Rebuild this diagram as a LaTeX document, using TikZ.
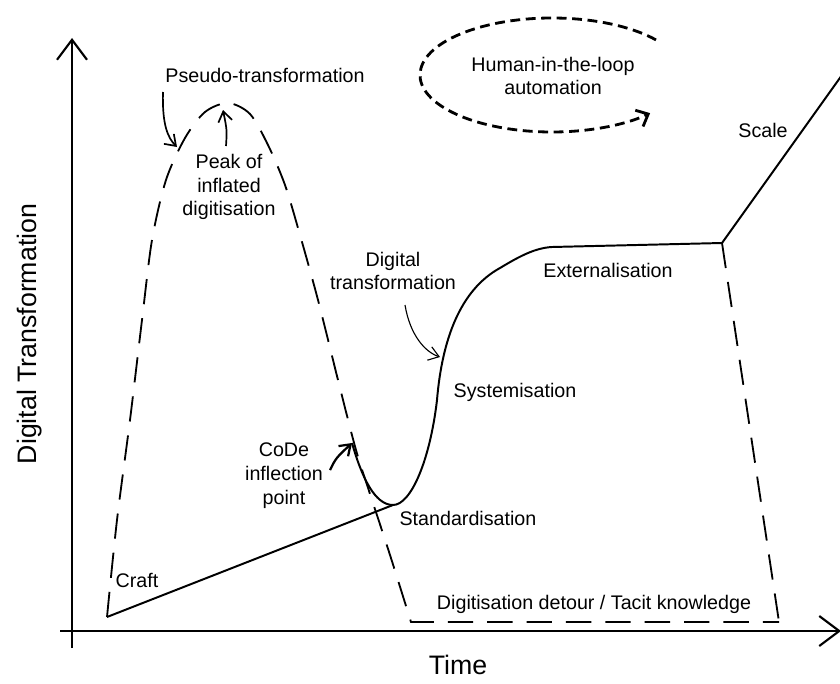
\documentclass[tikz,border=0pt]{standalone}
\usepackage{fontspec}
\setmainfont{Liberation Sans}
\usepackage{tikz}
\usetikzlibrary{arrows.meta}
\tikzset{>=stealth}
\tikzset{%
    lbl/.style={font=\fontsize{14}{17}\selectfont, align=center, inner sep=0pt},
    biglbl/.style={font=\fontsize{19}{23}\selectfont, inner sep=0pt},
    axis/.style={line width=1.5pt, -{Straight Barb[length=5mm,width=7.5mm]}},
    curve/.style={line width=1.4pt, line join=round},
    detour/.style={line width=1.3pt, dash pattern=on 18pt off 10pt},
    loopdash/.style={line width=2pt, dash pattern=on 7pt off 4pt, -{Straight Barb[length=2.5mm,width=4.5mm]}},
    note/.style={line width=1.2pt, -{Straight Barb[length=2.5mm,width=3.5mm]}}
}
\begin{document}
\begin{tikzpicture}[x=0.025cm,y=-0.025cm]
\useasboundingbox (0,0) rectangle (840,683);
% axes
\draw[axis] (72,648) -- (72,38);
\draw[axis] (60,631) -- (841,631);
\node[biglbl,rotate=90] (ylab) at (30,334) {Digital Transformation};
\node[biglbl] (xlab) at (458,665) {Time};
% key points
\coordinate (craft) at (107,617);
\coordinate (std) at (393,505);
\coordinate (code) at (352,443);
\coordinate (ext) at (722,243);
\coordinate (top) at (842,75);
\coordinate (dip) at (411,622);
\coordinate (drop) at (779,622);
% pseudo-transformation and detour
\draw[detour] plot[smooth] coordinates {(craft) (117,520) (130,420) (142,320) (152,240)
    (166,180) (185,138) (205,112) (228,103) (250,114) (268,145) (285,185) (300,235)
    (318,300) (338,380) (356,450) (372,500) (390,555) (dip)} -- (drop);
\draw[detour] (ext) -- (drop);
% real transformation
\draw[curve] (craft) -- (std);
\draw[curve] (code) .. controls (362,478) and (375,505) .. (std)
    .. controls (411,505) and (430,460) .. (437,400)
    .. controls (442,340) and (460,290) .. (500,268)
    .. controls (520,256) and (535,248) .. (552,247) -- (ext) -- (top);
% loop
\draw[loopdash] (552,75) ++(-38:132 and 57) arc[start angle=-38, end angle=-318, x radius=132, y radius=57];
% labels
\node[lbl] (pseudo) at (265,75) {Pseudo-transformation};
\node[lbl] (peak) at (229,187) {Peak of\\inflated\\digitisation};
\node[lbl] (hitl) at (553,76) {Human-in-the-loop\\automation};
\node[lbl] (scale) at (763,130) {Scale};
\node[lbl] (dt) at (393,271) {Digital\\transformation};
\node[lbl] (extl) at (608,270) {Externalisation};
\node[lbl] (sys) at (515,392) {Systemisation};
\node[lbl] (codel) at (284,476) {CoDe\\inflection\\point};
\node[lbl] (stdl) at (468,518) {Standardisation};
\node[lbl] (craftl) at (137,580) {Craft};
\node[lbl] (tacit) at (594,604) {Digitisation detour / Tacit knowledge};
% pointers
\coordinate (pa) at (163,92);
\coordinate (pb) at (177,147);
\draw[note] (pa) .. controls (162,125) and (168,138) .. (pb);
\coordinate (ka) at (226,146);
\coordinate (kb) at (223,110);
\draw[note] (ka) .. controls (227,130) .. (kb);
\coordinate (da) at (405,305);
\coordinate (db) at (440,357);
\draw[note, line width=0.8pt] (da) .. controls (410,335) and (425,352) .. (db);
\coordinate (ca) at (330,470);
\draw[note, line width=1.6pt] (ca) .. controls (336,458) .. (code);
\end{tikzpicture}
\end{document}
